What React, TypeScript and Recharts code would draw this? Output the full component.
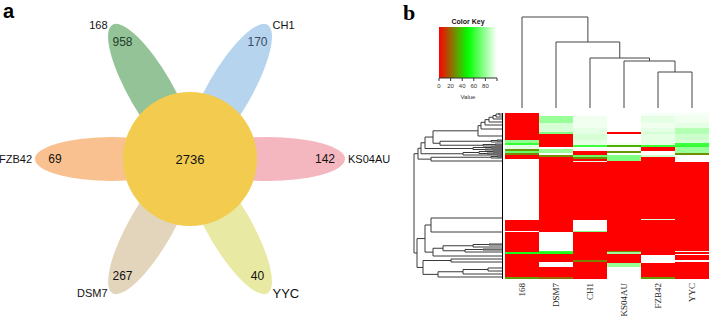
import React from 'react';
import {
  ScatterChart,
  Scatter,
  XAxis,
  YAxis,
  BarChart,
  Bar,
  Cell,
  ComposedChart,
  ReferenceArea,
} from 'recharts';

// ---- panel a: flower venn ----
const vennNames = ['KS04AU', 'CH1', '168', 'FZB42', 'DSM7', 'YYC'];
const vennUnique = [142, 170, 958, 69, 267, 40];
const vennCore = 2736;
const petalColors = ['#F4B7BF', '#B6D4EE', '#95C398', '#FAC190', '#E3D5BC', '#E8E9A2'];

// ---- panel b: heatmap ----
const samples = ['168', 'DSM7', 'CH1', 'KS04AU', 'FZB42', 'YYC'];
// row blocks (top to bottom), number of rows in each
const blockSizes = [3, 7, 5, 4, 2, 6, 3, 2, 2, 2, 2, 2, 2, 2, 2, 2, 1, 57, 1, 11, 1, 19, 1, 2, 1, 5, 2, 1, 4, 10, 2];
const totalRows = blockSizes.reduce((a, b) => a + b, 0);
// value (0-100) per block, columns in samples order
const blockValues = [
  [0, 100, 100, 100, 98, 98],
  [0, 80, 97, 100, 95, 97],
  [0, 92, 97, 100, 97, 95],
  [0, 92, 95, 100, 95, 85],
  [0, 75, 95, 0, 92, 85],
  [0, 0, 92, 100, 95, 90],
  [78, 0, 95, 100, 95, 92],
  [60, 0, 95, 97, 95, 62],
  [95, 0, 62, 35, 60, 60],
  [95, 100, 100, 100, 0, 80],
  [30, 80, 100, 100, 0, 80],
  [70, 80, 0, 30, 100, 80],
  [25, 100, 0, 100, 100, 28],
  [0, 28, 70, 75, 90, 100],
  [0, 0, 28, 75, 0, 100],
  [100, 0, 0, 75, 0, 100],
  [100, 0, 95, 0, 0, 100],
  [100, 0, 0, 0, 0, 0],
  [100, 0, 0, 0, 92, 0],
  [0, 0, 100, 0, 0, 0],
  [100, 0, 75, 0, 0, 0],
  [0, 100, 0, 0, 0, 0],
  [0, 60, 0, 25, 0, 95],
  [55, 55, 0, 80, 0, 0],
  [0, 0, 0, 0, 0, 100],
  [0, 0, 0, 0, 100, 0],
  [0, 0, 25, 0, 100, 100],
  [0, 100, 0, 0, 100, 0],
  [0, 100, 0, 80, 0, 0],
  [0, 0, 0, 100, 0, 0],
  [30, 20, 0, 100, 30, 0],
];
const keyTicks = [0, 20, 40, 60, 80, 100];

// column dendrogram (hclust style: negative = leaf, positive = earlier merge)
const colMerge = [[-5, -6], [-4, 1], [-3, 2], [-2, 3], [-1, 4]];
const colHeight = [36, 47, 50, 66, 91];

// row dendrogram
const rowLeaves = [0, 2, 4, 6, 9, 12, 16, 23, 27, 28, 29, 31, 32, 33, 34, 35, 36, 37, 38, 39, 40, 41, 42,
  43, 44, 45, 48, 105, 119, 131, 132, 134, 136, 137, 139, 143, 146, 149, 155, 158, 161, 164];
const rowMerge = [
  [-1, -2], [1, -3], [2, -4], [3, -5], [4, -6], [5, -7], [6, -8],
  [-9, -10], [8, -11], [-12, -13], [10, -14], [9, 11], [7, 12],
  [-15, -16], [-17, -18], [14, 15], [13, 16],
  [-19, -20], [-21, -22], [18, 19], [20, -23], [17, 21],
  [-24, -25], [23, -26], [24, -27], [22, 25],
  [-28, -29], [-30, -31], [28, -32], [-33, -34], [30, -35], [29, 31], [32, -36], [27, 33],
  [-37, -38], [-39, -40], [36, -41], [37, -42], [35, 38], [34, 39], [26, 40],
];
const rowHeight = [4, 7, 10, 14, 18, 22, 25, 6, 12, 8, 20, 63, 70, 12, 18, 30, 78, 10, 16, 24, 40, 82,
  6, 12, 72, 85, 72, 14, 30, 20, 38, 60, 70, 78, 52, 15, 40, 65, 80, 86, 89];

const keyColor = (v: number) => {
  const t = v / 100;
  let r, g, b;
  if (t <= 0.5) {
    r = 255 * (1 - 2 * t); g = 255 * 2 * t; b = 0;
  } else {
    const s = (t - 0.5) * 2;
    r = 255 * s; g = 255; b = 255 * s;
  }
  return `rgb(${Math.round(r)},${Math.round(g)},${Math.round(b)})`;
};

function dendroSegments(leaves: number[], merges: number[][], heights: number[]) {
  const pos: number[] = [];
  const node = (k: number) => (k < 0 ? { p: leaves[-k - 1], h: 0 } : { p: pos[k - 1], h: heights[k - 1] });
  return merges.map(([a, b], i) => {
    const A = node(a);
    const B = node(b);
    const h = heights[i];
    pos.push((A.p + B.p) / 2);
    return [A, { p: A.p, h }, { p: B.p, h }, B];
  });
}

const noDot = () => <g />;
const sans = '"Liberation Sans", Arial, sans-serif';
const serif = '"Liberation Serif", "Times New Roman", serif';

const PETAL_D = 78;
const PETAL_RX = 77;
const PETAL_RY = 22;
const CORE_R = 67;

function Venn() {
  const petals = vennNames.map((name, i) => {
    const a = (i * 60 * Math.PI) / 180;
    return { name, angle: i * 60, fill: petalColors[i], x: PETAL_D * Math.cos(a), y: PETAL_D * Math.sin(a) };
  });
  const counts = vennNames.map((name, i) => {
    const a = (i * 60 * Math.PI) / 180;
    return { text: String(vennUnique[i]), x: 135 * Math.cos(a), y: 135 * Math.sin(a), dark: i === 2 ? '#22402a' : i === 1 ? '#3b4b60' : '#111' };
  });
  const names = vennNames.map((name, i) => {
    const a = (i * 60 * Math.PI) / 180;
    const c = Math.cos(a);
    const tipX = 155 * c;
    const tipY = 155 * Math.sin(a);
    const side = c > 0 ? 1 : -1;
    const off = Math.abs(c) > 0.99 ? 3 : 5;
    return { text: name, x: tipX + side * off, y: tipY, anchor: side > 0 ? 'start' : 'end', size: name === 'YYC' ? 13 : 11 };
  });

  return (
    <ScatterChart width={400} height={318} margin={{ top: 0, right: 0, bottom: 0, left: 0 }}>
      <XAxis type="number" dataKey="x" domain={[-190, 210]} allowDataOverflow hide />
      <YAxis type="number" dataKey="y" domain={[-159, 159]} allowDataOverflow hide />
      <Scatter
        data={petals}
        isAnimationActive={false}
        shape={(p: any) => (
          <ellipse
            cx={p.cx}
            cy={p.cy}
            rx={PETAL_RX}
            ry={PETAL_RY}
            fill={p.payload.fill}
            transform={`rotate(${-p.payload.angle} ${p.cx} ${p.cy})`}
          />
        )}
      />
      <Scatter
        data={[{ x: 0, y: 0, value: vennCore }]}
        isAnimationActive={false}
        shape={(p: any) => (
          <g>
            <circle cx={p.cx} cy={p.cy} r={CORE_R} fill="#F2CB4F" />
            <text x={p.cx} y={p.cy} textAnchor="middle" dominantBaseline="central" fontFamily={sans} fontSize={13} fill="#111">
              {p.payload.value}
            </text>
          </g>
        )}
      />
      <Scatter
        data={counts}
        isAnimationActive={false}
        shape={(p: any) => (
          <text x={p.cx} y={p.cy} textAnchor="middle" dominantBaseline="central" fontFamily={sans} fontSize={12} fill={p.payload.dark}>
            {p.payload.text}
          </text>
        )}
      />
      <Scatter
        data={names}
        isAnimationActive={false}
        shape={(p: any) => (
          <text x={p.cx} y={p.cy} textAnchor={p.payload.anchor} dominantBaseline="central" fontFamily={sans} fontSize={p.payload.size} fill="#111">
            {p.payload.text}
          </text>
        )}
      />
    </ScatterChart>
  );
}

const SampleTick = ({ x, y, payload }: any) => (
  <text
    x={x}
    y={y - 4}
    transform={`rotate(-90 ${x} ${y - 4})`}
    textAnchor="end"
    dy="0.35em"
    fontFamily={serif}
    fontSize={9}
    fill="#222"
  >
    {payload.value}
  </text>
);

function Heatmap() {
  const rows = samples.map((name) => {
    const r: any = { name };
    blockSizes.forEach((s, i) => (r[`b${i}`] = s));
    return r;
  });
  return (
    <BarChart width={204} height={205} data={rows} margin={{ top: 0, right: 0, bottom: 0, left: 0 }} barCategoryGap={0} barGap={0}>
      <XAxis dataKey="name" height={205 - totalRows} interval={0} axisLine={false} tickLine={false} tick={<SampleTick />} />
      <YAxis type="number" domain={[0, totalRows]} reversed allowDataOverflow hide />
      {blockSizes.map((_, i) => (
        <Bar key={i} dataKey={`b${i}`} stackId="h" isAnimationActive={false}>
          {samples.map((s, j) => (
            <Cell key={s} fill={keyColor(blockValues[i][j])} />
          ))}
        </Bar>
      ))}
    </BarChart>
  );
}

function ColDendro() {
  const segs = dendroSegments([0, 1, 2, 3, 4, 5], colMerge, colHeight);
  return (
    <ScatterChart width={204} height={98} margin={{ top: 0, right: 0, bottom: 0, left: 0 }}>
      <XAxis type="number" dataKey="x" domain={[-0.5, 5.5]} allowDataOverflow hide />
      <YAxis type="number" dataKey="y" domain={[0, 98]} allowDataOverflow hide />
      {segs.map((s, i) => (
        <Scatter
          key={i}
          data={s.map((n) => ({ x: n.p, y: n.h }))}
          line={{ stroke: '#444', strokeWidth: 1 }}
          shape={noDot}
          isAnimationActive={false}
        />
      ))}
    </ScatterChart>
  );
}

function RowDendro() {
  const segs = dendroSegments(rowLeaves, rowMerge, rowHeight);
  return (
    <ScatterChart width={93} height={totalRows} margin={{ top: 0, right: 2, bottom: 0, left: 0 }}>
      <XAxis type="number" dataKey="x" domain={[0, 91]} reversed allowDataOverflow hide />
      <YAxis type="number" dataKey="y" domain={[0, totalRows]} reversed allowDataOverflow hide />
      {segs.map((s, i) => (
        <Scatter
          key={i}
          data={s.map((n) => ({ x: n.h, y: n.p }))}
          line={{ stroke: '#3a3a3a', strokeWidth: 1 }}
          shape={noDot}
          isAnimationActive={false}
        />
      ))}
      <Scatter
        data={[{ x: 0, y: 0 }, { x: 0, y: totalRows }]}
        line={{ stroke: '#000', strokeWidth: 2 }}
        shape={noDot}
        isAnimationActive={false}
      />
    </ScatterChart>
  );
}

function ColorKey() {
  return (
    <ComposedChart width={72} height={90} data={keyTicks.map((v) => ({ v }))} margin={{ top: 13, right: 7, bottom: 0, left: 7 }}>
      <defs>
        <linearGradient id="keyGrad" x1="0" y1="0" x2="1" y2="0">
          <stop offset="0" stopColor="#ff0000" />
          <stop offset="0.5" stopColor="#00ff00" />
          <stop offset="1" stopColor="#ffffff" />
        </linearGradient>
      </defs>
      <XAxis
        type="number"
        dataKey="v"
        domain={[0, 100]}
        ticks={keyTicks}
        allowDataOverflow
        height={26}
        tickSize={3}
        tickMargin={3}
        interval={0}
        stroke="#333"
        tick={{ fontSize: 6, fill: '#333', fontFamily: sans }}
        tickFormatter={(v: number) => (v === 100 ? '' : String(v))}
        label={{ value: 'Value', position: 'insideBottom', offset: 5, fontSize: 6, fill: '#333', fontFamily: sans }}
      />
      <YAxis type="number" domain={[0, 1]} allowDataOverflow hide />
      <ReferenceArea
        x1={0}
        x2={100}
        y1={0}
        y2={1}
        fill="url(#keyGrad)"
        fillOpacity={1}
        stroke="none"
        ifOverflow="visible"
        label={{ value: 'Color Key', position: 'top', offset: 3, fontSize: 7, fontWeight: 'bold', fill: '#111', fontFamily: sans }}
      />
    </ComposedChart>
  );
}

const abs = (left: number, top: number): React.CSSProperties => ({ position: 'absolute', left, top });

export default function App() {
  return (
    <div style={{ position: 'absolute', left: 0, top: 0, width: 709, height: 318, background: '#fff', overflow: 'hidden' }}>
      <div style={abs(0, 0)}>
        <Venn />
      </div>
      <div style={{ ...abs(3, 1), font: `bold 20px ${sans}`, lineHeight: '20px' }}>a</div>
      <div style={{ ...abs(403, 2), font: `bold 22px ${serif}`, lineHeight: '22px' }}>b</div>
      <div style={abs(432, 14)}>
        <ColorKey />
      </div>
      <div style={abs(505, 10)}>
        <ColDendro />
      </div>
      <div style={abs(412, 113)}>
        <RowDendro />
      </div>
      <div style={abs(505, 113)}>
        <Heatmap />
      </div>
    </div>
  );
}
